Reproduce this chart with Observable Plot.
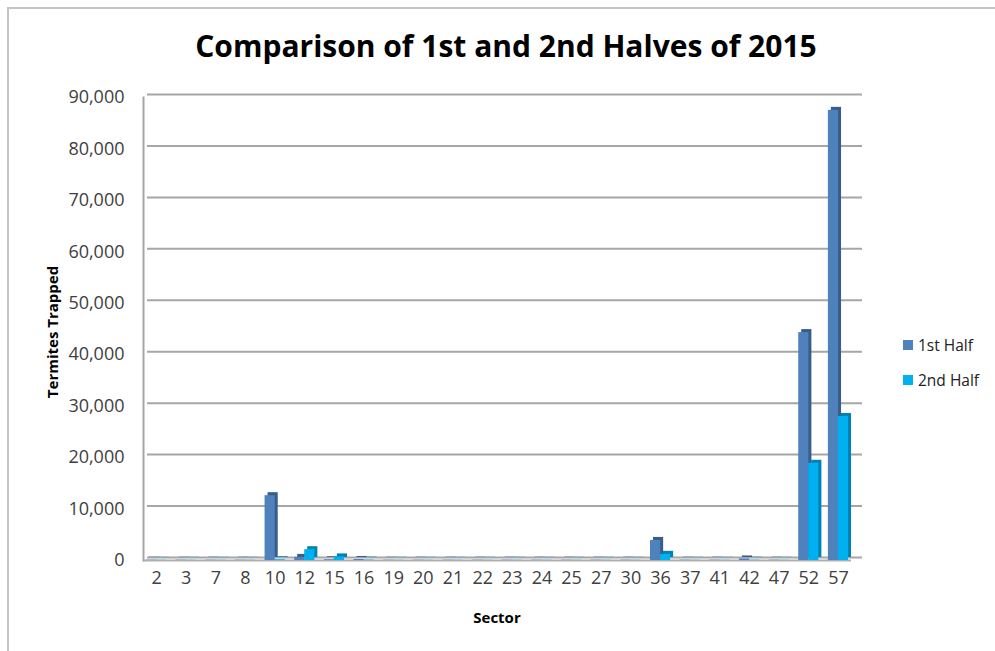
<!DOCTYPE html>
<html><head><meta charset="utf-8">
<script src="https://cdn.jsdelivr.net/npm/d3@7"></script>
<script src="https://cdn.jsdelivr.net/npm/@observablehq/plot@0.6"></script>
<style>
body{margin:0;background:#fff;font-family:"Open Sans",Lato,sans-serif}
#wrap{position:relative;width:995px;height:651px;overflow:hidden;background:#fff}
#border{position:absolute;left:7px;top:7px;width:1100px;height:800px;border-top:2px solid #c4c4c4;border-left:2px solid #c4c4c4}
#chart{position:absolute;left:0;top:0}
#title{position:absolute;left:0;width:1012px;top:27px;text-align:center;font-weight:bold;font-size:30px;color:#000;line-height:38px}
#ytitle{position:absolute;left:52px;top:332px;transform:translate(-50%,-50%) rotate(-90deg);font-weight:bold;font-size:15px;white-space:nowrap;color:#000}
#xtitle{position:absolute;left:497px;top:617px;transform:translate(-50%,-50%);font-weight:bold;font-size:15px;color:#000}
.leg{position:absolute;left:903px;font-size:15.5px;color:#222;display:flex;align-items:center;line-height:20px}
.leg span.sw{display:inline-block;width:10px;height:10px;margin-right:5px}
</style></head>
<body>
<div id="wrap">
  <div id="border"></div>
  <div id="chart"></div>
  <div id="title">Comparison of 1st and 2nd Halves of 2015</div>
  <div id="ytitle">Termites Trapped</div>
  <div id="xtitle">Sector</div>
  <div class="leg" style="top:335px"><span class="sw" style="background:#4f81bd"></span>1st Half</div>
  <div class="leg" style="top:370px"><span class="sw" style="background:#00b0f0"></span>2nd Half</div>
</div>
<script>
const sectors = ["2","3","7","8","10","12","15","16","19","20","21","22","23","24","25","27","30","36","37","41","42","47","52","57"];
const firstHalf  = [60,60,60,60,12600,600,150,200,60,60,60,60,60,60,60,60,60,3900,60,60,300,60,44300,87500];
const secondHalf = [40,40,40,40,150,2100,700,80,40,40,40,40,40,40,40,40,40,1200,40,40,60,40,18900,28000];
const yTicks = [0,10000,20000,30000,40000,50000,60000,70000,80000,90000];

const d1 = sectors.map((s,i)=>({sector:s, half:"1st Half", value:firstHalf[i]}));
const d2 = sectors.map((s,i)=>({sector:s, half:"2nd Half", value:secondHalf[i]}));

const chart = Plot.plot({
  width:995, height:651,
  marginTop:97, marginBottom:91, marginLeft:143, marginRight:144,
  style:{fontFamily:"'Open Sans', Lato, sans-serif", fontSize:"18px", color:"#404040", background:"transparent", overflow:"visible"},
  x:{domain:sectors, paddingInner:0.32, paddingOuter:0.1, round:false, label:null},
  y:{domain:[0,90000], label:null},
  marks:[
    Plot.ruleY(yTicks, {stroke:"#a6a6a6", strokeWidth:2, dx:4, dy:-3, insetRight:-7}),
    Plot.ruleY([0], {stroke:"#b0b0b0", strokeWidth:2}),
    Plot.frame({anchor:"left", stroke:"#a6a6a6", strokeWidth:2}),
    Plot.barY(d1, {x:"sector", y:"value", fill:"#385d8a", insetRight:10, dx:3, dy:-3}),
    Plot.barY(d1, {x:"sector", y:"value", fill:"#4f81bd", insetRight:10}),
    Plot.barY(d2, {x:"sector", y:"value", fill:"#0083b3", insetLeft:10, dx:3, dy:-3}),
    Plot.barY(d2, {x:"sector", y:"value", fill:"#00b0f0", insetLeft:10}),
    Plot.axisX({tickSize:0, tickPadding:11, label:null, fill:"#404040", fontSize:18}),
    Plot.axisY({ticks:yTicks, tickSize:0, tickPadding:19, tickFormat:d3.format(","), label:null, fill:"#404040", fontSize:18})
  ]
});
document.getElementById("chart").appendChild(chart);
</script>
</body></html>
